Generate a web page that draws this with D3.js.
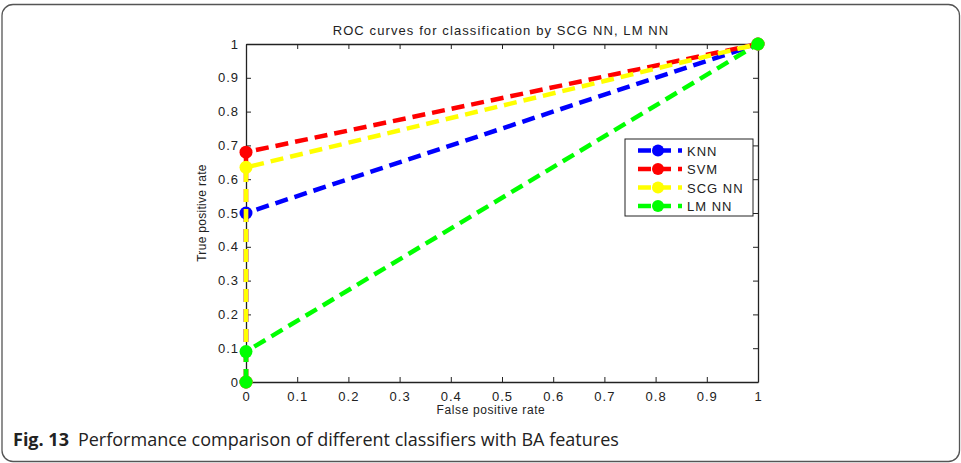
<!DOCTYPE html>
<html>
<head>
<meta charset="utf-8">
<script src="https://cdn.jsdelivr.net/npm/d3@7"></script>
<style>
  html, body { margin: 0; padding: 0; background: #fff; }
  svg { display: block; }
</style>
</head>
<body>
<svg id="chart" width="961" height="463"></svg>
<script>
// ROC points (false positive rate, true positive rate) for each classifier
const seriesNames = ["KNN", "SVM", "SCG NN", "LM NN"];
const seriesColors = ["#0000ff", "#ff0000", "#ffff00", "#00ff00"];
const knnFpr = [0, 0, 1];
const knnTpr = [0, 0.5, 1];
const svmFpr = [0, 0, 1];
const svmTpr = [0, 0.68, 1];
const scgFpr = [0, 0, 1];
const scgTpr = [0, 0.635, 1];
const lmFpr = [0, 0, 1];
const lmTpr = [0, 0.09, 1];
const xTicks = [0, 0.1, 0.2, 0.3, 0.4, 0.5, 0.6, 0.7, 0.8, 0.9, 1];
const yTicks = [0, 0.1, 0.2, 0.3, 0.4, 0.5, 0.6, 0.7, 0.8, 0.9, 1];

const series = [
  { name: seriesNames[0], color: seriesColors[0], fpr: knnFpr, tpr: knnTpr },
  { name: seriesNames[1], color: seriesColors[1], fpr: svmFpr, tpr: svmTpr },
  { name: seriesNames[2], color: seriesColors[2], fpr: scgFpr, tpr: scgTpr },
  { name: seriesNames[3], color: seriesColors[3], fpr: lmFpr, tpr: lmTpr }
];

const svg = d3.select("#chart");
const plot = { left: 246, right: 758, top: 44, bottom: 382 };

// Figure panel with rounded corners
svg.append("rect")
  .attr("x", 2).attr("y", 4.5).attr("width", 957.5).attr("height", 457)
  .attr("rx", 11).attr("ry", 11)
  .attr("fill", "#fff").attr("stroke", "#555").attr("stroke-width", 1.3);

const x = d3.scaleLinear().domain([0, 1]).range([plot.left, plot.right]);
const y = d3.scaleLinear().domain([0, 1]).range([plot.bottom, plot.top]);

const axisFont = "Liberation Sans, Arial, sans-serif";

// Axes with inward ticks on all four sides
const fmt = d => d3.format("")(+d.toFixed(1));
const gB = svg.append("g").attr("transform", `translate(0,${plot.bottom})`)
  .call(d3.axisBottom(x).tickValues(xTicks).tickSizeInner(-5).tickSizeOuter(0).tickPadding(10).tickFormat(fmt));
const gL = svg.append("g").attr("transform", `translate(${plot.left},0)`)
  .call(d3.axisLeft(y).tickValues(yTicks).tickSizeInner(-5).tickSizeOuter(0).tickPadding(7).tickFormat(fmt));
const gT = svg.append("g").attr("transform", `translate(0,${plot.top})`)
  .call(d3.axisTop(x).tickValues(xTicks).tickSizeInner(-5).tickSizeOuter(0).tickFormat(""));
const gR = svg.append("g").attr("transform", `translate(${plot.right},0)`)
  .call(d3.axisRight(y).tickValues(yTicks).tickSizeInner(-5).tickSizeOuter(0).tickFormat(""));

[gB, gL, gT, gR].forEach(g => {
  g.select(".domain").attr("stroke", "#222").attr("stroke-width", 1.3);
  g.selectAll(".tick line").attr("stroke", "#222").attr("stroke-width", 1);
  g.selectAll(".tick text").attr("fill", "#222")
    .style("font-family", axisFont).style("font-size", "13px").style("letter-spacing", "1px");
});

// ROC curves
const line = d3.line().x(d => x(d[0])).y(d => y(d[1]));
series.forEach(s => {
  const pts = s.fpr.map((f, i) => [f, s.tpr[i]]);
  svg.append("path")
    .datum(pts)
    .attr("d", line)
    .attr("fill", "none")
    .attr("stroke", s.color)
    .attr("stroke-width", 4.5)
    .attr("stroke-dasharray", "13,7");
  svg.selectAll(null)
    .data(pts)
    .enter().append("circle")
    .attr("cx", d => x(d[0]))
    .attr("cy", d => y(d[1]))
    .attr("r", 6.5)
    .attr("fill", s.color);
});

// Legend
const legend = svg.append("g");
legend.append("rect")
  .attr("x", 625).attr("y", 139).attr("width", 128).attr("height", 77)
  .attr("fill", "#fff").attr("stroke", "#222").attr("stroke-width", 1);
series.forEach((s, i) => {
  const ly = 150.5 + i * 18.5;
  legend.append("line")
    .attr("x1", 638).attr("x2", 682).attr("y1", ly).attr("y2", ly)
    .attr("stroke", s.color).attr("stroke-width", 4.5)
    .attr("stroke-dasharray", "13,7");
  legend.append("circle")
    .attr("cx", 658).attr("cy", ly).attr("r", 6).attr("fill", s.color);
  legend.append("text")
    .attr("x", 687).attr("y", ly + 5)
    .style("font-family", axisFont).style("font-size", "13px").style("letter-spacing", "1px")
    .attr("fill", "#222")
    .text(s.name);
});

// Title and axis labels
svg.append("text")
  .attr("x", 501).attr("y", 35).attr("text-anchor", "middle")
  .style("font-family", axisFont).style("font-size", "13px").style("letter-spacing", "1.1px")
  .attr("fill", "#222")
  .text("ROC curves for classification by SCG NN, LM NN");
svg.append("text")
  .attr("x", 491).attr("y", 414).attr("text-anchor", "middle")
  .style("font-family", axisFont).style("font-size", "12px").style("letter-spacing", "0.6px")
  .attr("fill", "#222")
  .text("False positive rate");
svg.append("text")
  .attr("transform", "translate(206,213) rotate(-90)").attr("text-anchor", "middle")
  .style("font-family", axisFont).style("font-size", "12px").style("letter-spacing", "0.3px")
  .attr("fill", "#222")
  .text("True positive rate");

// Caption
const cap = svg.append("text")
  .attr("x", 13).attr("y", 446)
  .style("font-family", "Open Sans, Noto Sans, sans-serif").style("font-size", "18px").attr("fill", "#222");
cap.append("tspan").attr("font-weight", "bold").text("Fig. 13");
cap.append("tspan").attr("dx", 9).text("Performance comparison of different classifiers with BA features");
</script>
</body>
</html>
